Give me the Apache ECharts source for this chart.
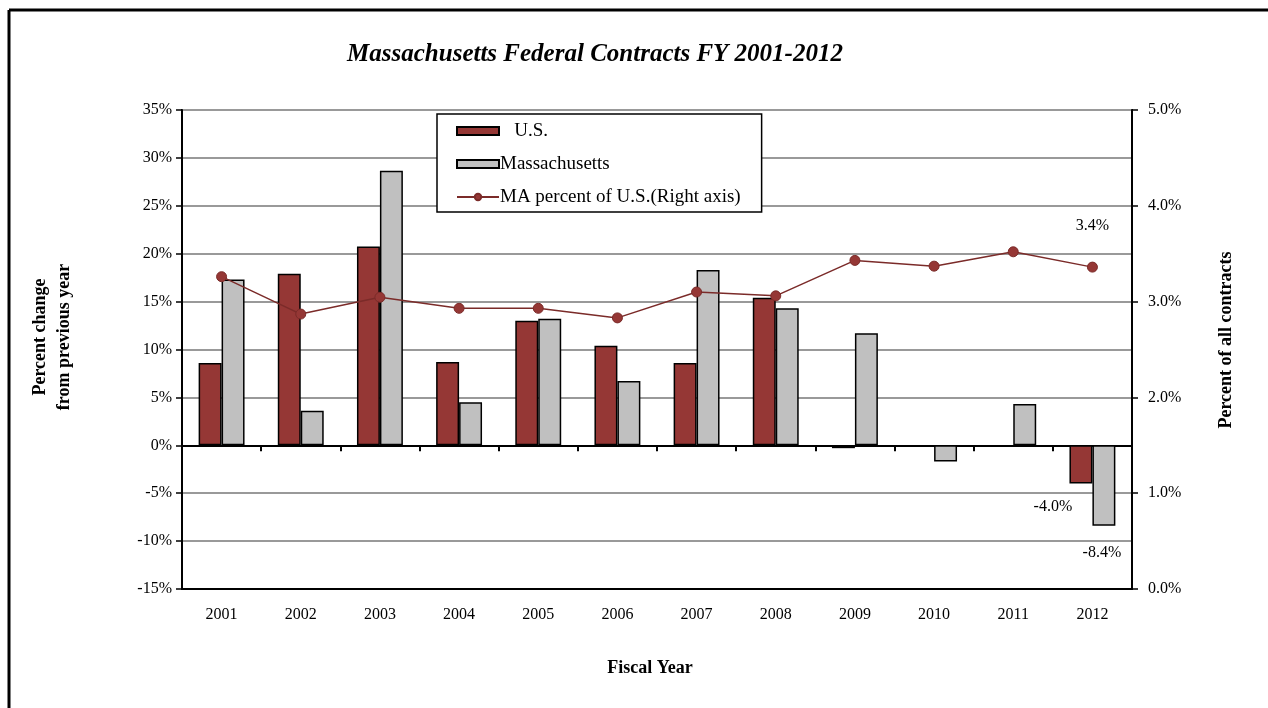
<!DOCTYPE html>
<html>
<head>
<meta charset="utf-8">
<script src="https://cdn.jsdelivr.net/npm/echarts@6/dist/echarts.min.js"></script>
<style>
html,body{margin:0;padding:0;background:#fff;}
#chart{width:1268px;height:708px;}
</style>
</head>
<body>
<div id="chart"></div>
<script>
const years = ['2001','2002','2003','2004','2005','2006','2007','2008','2009','2010','2011','2012'];
const usChange = [8.6, 17.9, 20.75, 8.7, 13.0, 10.4, 8.6, 15.4, -0.3, -0.1, -0.1, -4.0];
const maChange = [17.3, 3.6, 28.65, 4.5, 13.2, 6.7, 18.3, 14.3, 11.7, -1.7, 4.3, -8.4];
const maShare = [3.26, 2.87, 3.045, 2.93, 2.93, 2.83, 3.10, 3.06, 3.43, 3.37, 3.52, 3.36];
const leftTicks = {min: -15, max: 35, interval: 5};
const rightTicks = {min: 0, max: 5, interval: 1};

const FONT = '"Liberation Serif", "Times New Roman", serif';
const RED = '#953735';
const GRAY = '#c0c0c0';

const chart = echarts.init(document.getElementById('chart'), null, {renderer: 'canvas'});

const usData = usChange.map((v, i) => {
  if (i === usChange.length - 1) {
    return {value: v, label: {show: true, position: 'bottom', distance: 15, offset: [-28, 0],
      formatter: v.toFixed(1) + '%', fontFamily: FONT, fontSize: 16, color: '#000'}};
  }
  return v;
});
const maData = maChange.map((v, i) => {
  if (i === maChange.length - 1) {
    return {value: v, label: {show: true, position: 'bottom', distance: 19, offset: [-2, 0],
      formatter: v.toFixed(1) + '%', fontFamily: FONT, fontSize: 16, color: '#000'}};
  }
  return v;
});
const shareData = maShare.map((v, i) => {
  if (i === maShare.length - 1) {
    return {value: v, label: {show: true, position: 'top', distance: 28,
      formatter: v.toFixed(1) + '%', fontFamily: FONT, fontSize: 16, color: '#000'}};
  }
  return v;
});

const option = {
  animation: false,
  backgroundColor: '#fff',
  textStyle: {fontFamily: FONT},
  grid: {left: 182, right: 136, top: 110, bottom: 119, show: true, borderColor: '#000', borderWidth: 2, backgroundColor: 'transparent'},
  legend: {
    orient: 'vertical', left: 437, top: 114,
    padding: [7, 21, 5, 19],
    itemGap: 13,
    itemWidth: 42, itemHeight: 8,
    backgroundColor: '#fff', borderColor: '#000', borderWidth: 1.5,
    textStyle: {fontFamily: FONT, fontSize: 19, color: '#000', padding: [0, 0, 0, -4], lineHeight: 20},
    formatter: n => n === 'U.S.' ? '   U.S.' : n,
    data: [
      {name: 'U.S.', icon: 'rect'},
      {name: 'Massachusetts', icon: 'rect'},
      {name: 'MA percent of U.S.(Right axis)'}
    ]
  },
  xAxis: [
    {
      type: 'category', data: years, position: 'bottom',
      axisLine: {onZero: false, lineStyle: {color: '#000', width: 2}},
      axisTick: {show: false},
      axisLabel: {fontFamily: FONT, fontSize: 16, color: '#000', margin: 18},
      splitLine: {show: false}
    },
    {
      type: 'category', data: years, position: 'bottom',
      axisLine: {onZero: true, onZeroAxisIndex: 0, lineStyle: {color: '#000', width: 2}},
      axisTick: {show: true, length: 6, lineStyle: {color: '#000', width: 2}},
      axisLabel: {show: false},
      splitLine: {show: false}
    }
  ],
  yAxis: [
    {
      type: 'value', min: leftTicks.min, max: leftTicks.max, interval: leftTicks.interval,
      axisLine: {show: true, lineStyle: {color: '#000', width: 2}},
      axisTick: {show: true, length: 6, lineStyle: {color: '#000', width: 1.5}},
      axisLabel: {fontFamily: FONT, fontSize: 16, color: '#000', margin: 10, formatter: '{value}%'},
      splitLine: {show: true, lineStyle: {color: '#999', width: 2}}
    },
    {
      type: 'value', min: rightTicks.min, max: rightTicks.max, interval: rightTicks.interval,
      axisLine: {show: true, lineStyle: {color: '#000', width: 2}},
      axisTick: {show: true, length: 6, lineStyle: {color: '#000', width: 1.5}},
      axisLabel: {fontFamily: FONT, fontSize: 16, color: '#000', margin: 16, formatter: v => v.toFixed(1) + '%'},
      splitLine: {show: false}
    }
  ],
  series: [
    {
      name: 'U.S.', type: 'bar', xAxisIndex: 0, yAxisIndex: 0,
      data: usData, barGap: '0%', barCategoryGap: '42%',
      itemStyle: {color: RED, borderColor: '#000', borderWidth: 1.5}
    },
    {
      name: 'Massachusetts', type: 'bar', xAxisIndex: 0, yAxisIndex: 0,
      data: maData, barGap: '0%', barCategoryGap: '42%',
      itemStyle: {color: GRAY, borderColor: '#000', borderWidth: 1.5}
    },
    {
      name: 'MA percent of U.S.(Right axis)', type: 'line', xAxisIndex: 0, yAxisIndex: 1,
      data: shareData, symbol: 'circle', symbolSize: 10,
      lineStyle: {color: '#7b2b29', width: 1.5},
      itemStyle: {color: RED, borderColor: '#7b2b29', borderWidth: 1},
      z: 5
    }
  ],
  graphic: [
    {type: 'line', shape: {x1: 9, y1: 10, x2: 1268, y2: 10}, style: {stroke: '#000', lineWidth: 3}},
    {type: 'line', shape: {x1: 9, y1: 10, x2: 9, y2: 708}, style: {stroke: '#000', lineWidth: 3}},
    {type: 'text', x: 595, y: 55,
      style: {text: 'Massachusetts Federal Contracts FY 2001-2012', font: 'italic bold 25px ' + FONT, fill: '#000', textAlign: 'center', textVerticalAlign: 'middle'}},
    {type: 'text', x: 52, y: 337, rotation: Math.PI / 2,
      style: {text: 'Percent change\nfrom previous year', font: 'bold 18px ' + FONT, fill: '#000', textAlign: 'center', textVerticalAlign: 'middle', lineHeight: 24}},
    {type: 'text', x: 1226, y: 340, rotation: Math.PI / 2,
      style: {text: 'Percent of all contracts', font: 'bold 18px ' + FONT, fill: '#000', textAlign: 'center', textVerticalAlign: 'middle'}},
    {type: 'text', x: 650, y: 668,
      style: {text: 'Fiscal Year', font: 'bold 18px ' + FONT, fill: '#000', textAlign: 'center', textVerticalAlign: 'middle'}}
  ]
};
chart.setOption(option);
</script>
</body>
</html>
